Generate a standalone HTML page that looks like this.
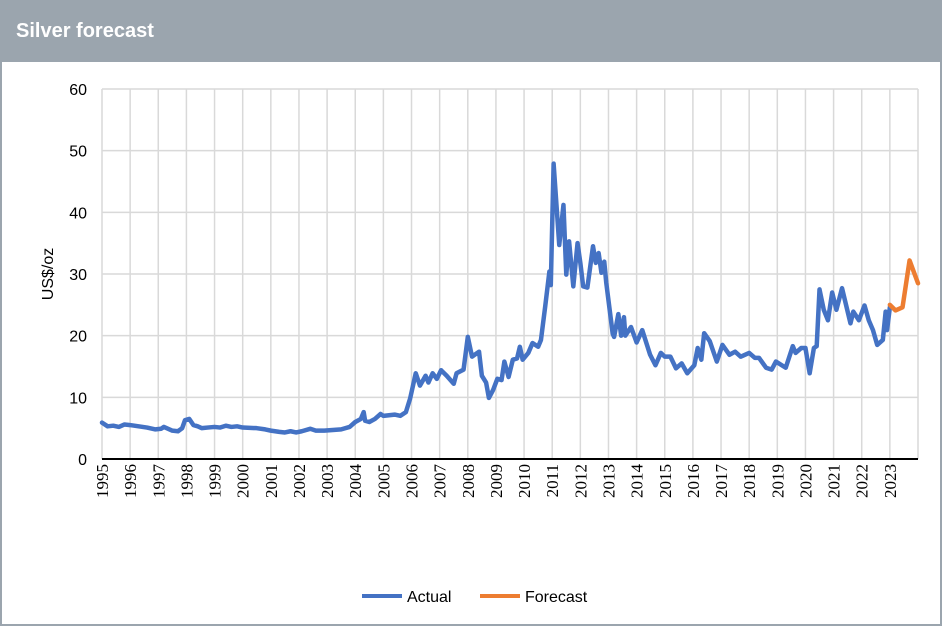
<!DOCTYPE html>
<html><head><meta charset="utf-8"><style>
body{margin:0;width:942px;height:628px;overflow:hidden;background:#fff;font-family:"Liberation Sans",sans-serif}
#frame{position:absolute;left:0;top:0;width:938px;height:624px;border:2px solid #9ba5ae;border-top:none}
#hdr{position:absolute;left:0;top:0;width:942px;height:62px;background:#9ba5ae}
#hdr span{position:absolute;left:16px;top:20px;color:#fff;font-weight:bold;font-size:20px}
</style></head><body>
<div id="frame"></div>
<div id="hdr"><span>Silver forecast</span></div>
<svg id="c" width="942" height="628" style="position:absolute;left:0;top:0"></svg>
<script>
const actualDates=[1995,1995.2,1995.4,1995.6,1995.8,1996,1996.3,1996.6,1996.9,1997.1,1997.2,1997.5,1997.7,1997.85,1997.95,1998.1,1998.25,1998.4,1998.55,1998.75,1999,1999.2,1999.4,1999.6,1999.8,2000,2000.5,2000.8,2001,2001.3,2001.5,2001.7,2001.9,2002.1,2002.4,2002.6,2002.9,2003.2,2003.5,2003.8,2004,2004.2,2004.3,2004.35,2004.5,2004.7,2004.9,2005,2005.2,2005.4,2005.6,2005.8,2005.95,2006.15,2006.3,2006.5,2006.6,2006.75,2006.9,2007.05,2007.25,2007.5,2007.6,2007.85,2008,2008.15,2008.4,2008.5,2008.65,2008.75,2008.9,2009.05,2009.2,2009.3,2009.45,2009.6,2009.75,2009.85,2009.95,2010.15,2010.3,2010.5,2010.6,2010.75,2010.9,2010.95,2011.05,2011.25,2011.4,2011.5,2011.6,2011.75,2011.9,2012,2012.1,2012.25,2012.45,2012.55,2012.65,2012.75,2012.85,2012.92,2013.15,2013.2,2013.35,2013.45,2013.55,2013.6,2013.8,2014,2014.2,2014.48,2014.67,2014.86,2015,2015.2,2015.4,2015.6,2015.8,2016.05,2016.17,2016.3,2016.4,2016.6,2016.85,2017.05,2017.3,2017.5,2017.7,2018,2018.2,2018.35,2018.6,2018.8,2018.95,2019.3,2019.55,2019.65,2019.85,2020,2020.15,2020.3,2020.4,2020.5,2020.65,2020.8,2020.95,2021.1,2021.3,2021.6,2021.7,2021.9,2022.1,2022.25,2022.4,2022.55,2022.75,2022.85,2022.9,2023];
const actualValues=[5.9,5.3,5.4,5.2,5.6,5.5,5.3,5.1,4.8,4.9,5.2,4.6,4.5,5,6.3,6.5,5.5,5.3,5,5.1,5.2,5.1,5.4,5.2,5.3,5.1,5,4.8,4.6,4.4,4.3,4.5,4.3,4.5,4.9,4.6,4.6,4.7,4.8,5.2,6,6.5,7.6,6.2,6,6.5,7.3,7,7.1,7.2,7,7.6,9.8,13.9,11.9,13.5,12.4,13.9,13,14.4,13.5,12.2,13.9,14.5,19.8,16.6,17.4,13.5,12.4,9.9,11.2,13,12.8,15.8,13.3,16.1,16.3,18.2,16.1,17.2,18.8,18.2,19.3,24.7,30.4,28.2,47.9,34.7,41.2,29.9,35.3,28,35,31.8,28,27.8,34.5,31.8,33.4,30.2,32,28.6,20.3,19.8,23.5,20,23,20,21.4,18.9,20.9,16.9,15.2,17.2,16.6,16.6,14.7,15.5,13.9,15.2,18,16.1,20.4,19.1,15.8,18.5,16.9,17.4,16.6,17.2,16.4,16.4,14.8,14.5,15.8,14.8,18.3,17.2,18,18,13.9,18,18.3,27.5,24.2,22.5,27,24.2,27.7,22,23.9,22.5,24.9,22.5,20.9,18.5,19.3,23.9,20.9,24.6];
const forecastDates=[2023,2023.2,2023.45,2023.7,2024];
const forecastValues=[25,24.1,24.6,32.2,28.5];
const yTicks=[0,10,20,30,40,50,60];
const xYears=[1995,1996,1997,1998,1999,2000,2001,2002,2003,2004,2005,2006,2007,2008,2009,2010,2011,2012,2013,2014,2015,2016,2017,2018,2019,2020,2021,2022,2023];

const svg=document.getElementById('c'),NS='http://www.w3.org/2000/svg';
const X0=102,X1=918,Y0=459,Y1=89;
const xs=d=>X0+(d-1995)/(2024-1995)*(X1-X0);
const ys=v=>Y0-v/60*(Y0-Y1);
function mk(t,a,txt){const e=document.createElementNS(NS,t);for(const k in a)e.setAttribute(k,a[k]);if(txt!=null)e.textContent=txt;svg.appendChild(e);return e;}
for(const t of yTicks){
 const l=mk('line',{x1:X0,x2:X1,y1:ys(t),y2:ys(t),stroke:'#d9d9d9','stroke-width':1.5});
 
 
 const tx=mk('text',{x:87,y:ys(t)+6,'text-anchor':'end','font-size':16,fill:'#000'},t);
 
 
}
for(let y=1995;y<=2024;y++){
 const l=mk('line',{x1:xs(y),x2:xs(y),y1:Y1,y2:Y0,stroke:'#d9d9d9','stroke-width':1.5});
 
 
}
for(const y of xYears){
 const x=xs(y)+6,yy=464;
 const tx=mk('text',{x:x,y:yy,transform:`rotate(-90 ${x} ${yy})`,'text-anchor':'end','font-size':17,'font-family':'Liberation Serif,serif',fill:'#000'},y);
 
 
}
const ax=mk('line',{x1:X0,x2:X1,y1:Y0,y2:Y0,stroke:'#000','stroke-width':2});


const yt=mk('text',{x:53,y:274,transform:'rotate(-90 53 274)','text-anchor':'middle','font-size':16,fill:'#000'},'US$/oz');


function series(d,v,c,name){
 const p=mk('polyline',{points:d.map((t,i)=>xs(t)+','+ys(v[i])).join(' '),fill:'none',stroke:c,'stroke-width':4.5,'stroke-linejoin':'round','stroke-linecap':'round'});
 
 
}
series(actualDates,actualValues,'#4472c4','actual-line');
series(forecastDates,forecastValues,'#ed7d31','forecast-line');
const legend=[['Actual','#4472c4',362],['Forecast','#ed7d31',480]];
for(const [n,c,x] of legend){
 const l=mk('line',{x1:x,x2:x+40,y1:596,y2:596,stroke:c,'stroke-width':4});
 
 
 const t=mk('text',{x:x+45,y:602,'font-size':16,fill:'#000'},n);
 
 
}
</script>
</body></html>
